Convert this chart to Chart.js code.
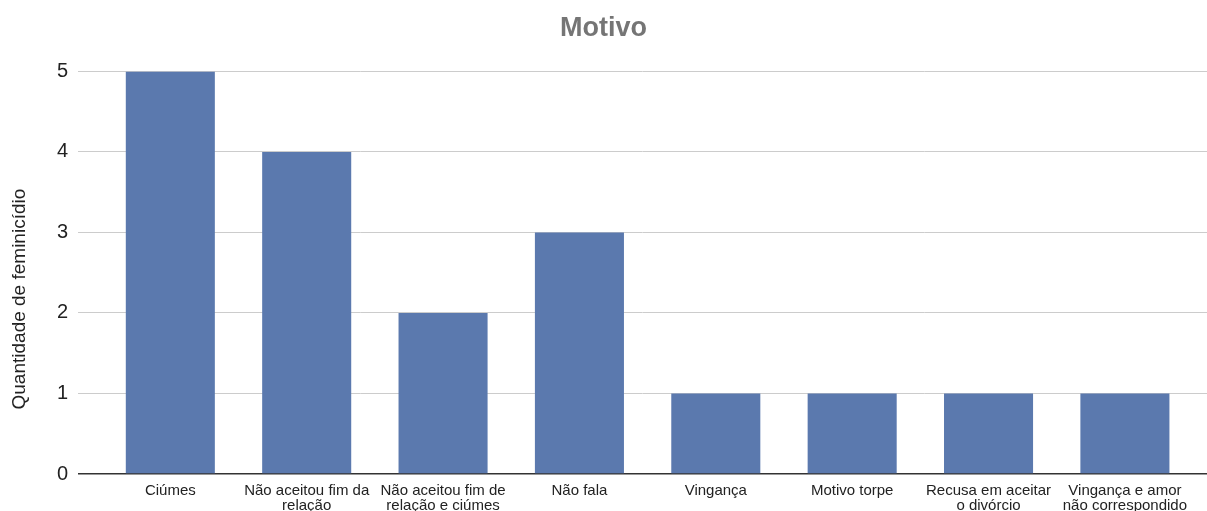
<!DOCTYPE html>
<html><head><meta charset="utf-8">
<script src="https://cdn.jsdelivr.net/npm/chart.js@4"></script>
<style>html,body{margin:0;padding:0;background:#fff}</style>
</head><body>
<canvas id="c" width="1207" height="511"></canvas>
<script>
const categories = [
  ["Ciúmes"],
  ["Não aceitou fim da", "relação"],
  ["Não aceitou fim de", "relação e ciúmes"],
  ["Não fala"],
  ["Vingança"],
  ["Motivo torpe"],
  ["Recusa em aceitar", "o divórcio"],
  ["Vingança e amor", "não correspondido"]
];
const values = [5, 4, 2, 3, 1, 1, 1, 1];
const yTicks = [0, 1, 2, 3, 4, 5];
const chartTitle = "Motivo";
const yTitle = "Quantidade de feminicídio";

const FONT = "'Liberation Sans', Arial, sans-serif";
Chart.defaults.font.family = FONT;

new Chart(document.getElementById('c'), {
  type: 'bar',
  data: {
    datasets: [{
      data: values.map((v, i) => ({ x: i, y: v })),
      backgroundColor: '#5b79ae',
      borderWidth: 0,
      barPercentage: 0.653,
      categoryPercentage: 1
    }]
  },
  options: {
    responsive: false,
    animation: false,
    layout: { padding: 0 },
    plugins: {
      legend: { display: false },
      tooltip: { enabled: false },
      title: {
        display: true,
        text: chartTitle,
        color: '#757575',
        font: { size: 27, weight: 'bold', family: FONT },
        padding: { top: 12, bottom: 27 }
      }
    },
    scales: {
      x: {
        type: 'linear',
        offset: false,
        min: -0.677,
        max: 7.602,
        afterBuildTicks: axis => { axis.ticks = categories.map((c, i) => ({ value: i })); },
        afterFit: s => { s.height = 37; },
        grid: { display: false, drawTicks: false, offset: false },
        border: { display: false },
        ticks: {
          autoSkip: false,
          maxRotation: 0,
          minRotation: 0,
          padding: 9,
          color: '#222',
          font: { size: 15, lineHeight: 1.02 },
          callback: v => categories[v]
        }
      },
      y: {
        min: 0,
        max: 5,
        afterBuildTicks: axis => { axis.ticks = yTicks.map(v => ({ value: v })); },
        afterFit: s => { s.width = 78; },
        grid: {
          drawTicks: false,
          color: c => (c.tick && c.tick.value === 0) ? '#333' : '#cccccc',
          lineWidth: c => (c.tick && c.tick.value === 0) ? 1.5 : 1
        },
        border: { display: false },
        ticks: {
          padding: 10,
          color: '#222',
          font: { size: 20 }
        },
        title: {
          display: true,
          text: yTitle + '\u00a0'.repeat(10),
          color: '#222',
          font: { size: 19 },
          padding: { top: 8, bottom: 0 }
        }
      }
    }
  }
});
</script>
</body></html>
